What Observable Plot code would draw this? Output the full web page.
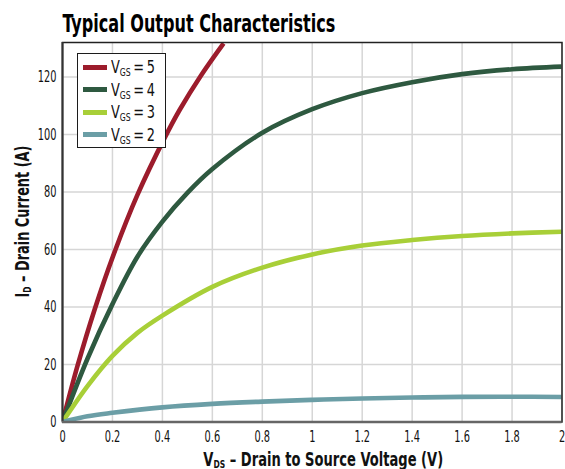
<!DOCTYPE html>
<html>
<head>
<meta charset="utf-8">
<script src="https://cdn.jsdelivr.net/npm/d3@7"></script>
<script src="https://cdn.jsdelivr.net/npm/@observablehq/plot@0.6"></script>
<style>
  body { margin: 0; background: #fff; }
  #wrap { position: relative; width: 565px; height: 469px; overflow: hidden; }
  #wrap svg { position: absolute; left: 0; top: 0; overflow: visible; }
  .legend { position: absolute; left: 76.5px; top: 53px; width: 89px; height: 94.5px;
            box-sizing: border-box; border: 1.5px solid #1c1c1c; background: #fff; padding-top: 2.2px; }
  .row { position: relative; height: 22.5px; }
  .sw { position: absolute; left: 5px; top: 8.75px; width: 24px; height: 5px; }
  .lab { position: absolute; left: 33.5px; top: 0; line-height: 22.5px; white-space: nowrap;
         font-size: 17.5px; color: #111; transform-origin: 0 50%; }
  .lab sub { font-size: 10.5px; vertical-align: -3px; line-height: 0; }
</style>
</head>
<body>
<div id="wrap"></div>
<script>
const FONT = "'Liberation Sans Narrow','DejaVu Sans Condensed','Liberation Sans',sans-serif";

// ---- text ----
const titleText = "Typical Output Characteristics";
const xLabelMain = "V";
const xLabelSub = "DS";
const xLabelRest = " – Drain to Source Voltage (V)";
const yLabelMain = "I";
const yLabelSub = "D";
const yLabelRest = " – Drain Current (A)";

// ---- ticks ----
const xTicks = [0, 0.2, 0.4, 0.6, 0.8, 1, 1.2, 1.4, 1.6, 1.8, 2];
const xTickLabels = ["0", "0.2", "0.4", "0.6", "0.8", "1", "1.2", "1.4", "1.6", "1.8", "2"];
const yTicks = [0, 20, 40, 60, 80, 100, 120];
const yTickLabels = ["0", "20", "40", "60", "80", "100", "120"];

// ---- series ----
const vgsLabels = ["5", "4", "3", "2"];
const vgsColors = ["#9c1c2c", "#2e5940", "#a8cf38", "#6b9ea6"];

const vds5 = [0, 0.06, 0.13, 0.21, 0.30, 0.41, 0.47, 0.552, 0.645];
const id5  = [0, 19.5, 39.5, 59.5, 79, 99, 108.7, 120.2, 131.7];

const vds4 = [0, 0.1, 0.2, 0.3, 0.4, 0.5, 0.6, 0.8, 1.0, 1.2, 1.4, 1.6, 1.8, 2.0];
const id4  = [0, 22, 41, 57.5, 69.7, 79.7, 88, 100.6, 108.8, 114.4, 118.2, 121, 122.7, 123.6];

const vds3 = [0, 0.1, 0.2, 0.3, 0.4, 0.6, 0.8, 1.0, 1.2, 1.4, 1.6, 1.8, 2.0];
const id3  = [0, 12.5, 23, 31, 37, 47, 53.7, 58.3, 61.4, 63.3, 64.7, 65.6, 66.2];

const vds2 = [0, 0.1, 0.2, 0.4, 0.6, 0.8, 1.0, 1.2, 1.4, 1.6, 1.8, 2.0];
const id2  = [0, 2.0, 3.2, 5.1, 6.3, 7.1, 7.7, 8.2, 8.5, 8.75, 8.8, 8.7];

const series = [
  {vgs: "5", vds: vds5, id: id5},
  {vgs: "4", vds: vds4, id: id4},
  {vgs: "3", vds: vds3, id: id3},
  {vgs: "2", vds: vds2, id: id2}
];
const rows = series.flatMap(s => s.vds.map((v, i) => ({vgs: s.vgs, vds: v, id: s.id[i]})));

const xLabelFull = xLabelMain + xLabelSub + xLabelRest;
const yLabelFull = yLabelMain + yLabelSub + yLabelRest;

const svg = Plot.plot({
  width: 565,
  height: 469,
  marginLeft: 62,
  marginRight: 3.5,
  marginTop: 42,
  marginBottom: 47.5,
  style: {fontFamily: FONT, fontSize: "16.5px", color: "#111", background: "#fff"},
  x: {domain: [0, 2]},
  y: {domain: [0, 132]},
  color: {domain: vgsLabels, range: vgsColors},
  marks: [
    Plot.gridX(xTicks, {stroke: "#d6d6d6", strokeOpacity: 1, strokeWidth: 1.5}),
    Plot.gridY(yTicks, {stroke: "#d6d6d6", strokeOpacity: 1, strokeWidth: 1.5}),
    Plot.line(rows, {x: "vds", y: "id", z: "vgs", stroke: "vgs", strokeWidth: 4.6,
                     curve: "catmull-rom", strokeLinecap: "butt", clip: true}),
    Plot.frame({stroke: "#222", strokeWidth: 1.5}),
    Plot.ruleX([0], {stroke: "#333", strokeWidth: 2}),
    Plot.ruleY([0], {stroke: "#666", strokeWidth: 2.5}),
    Plot.axisX(xTicks, {tickSize: 0, tickPadding: 8, label: null,
                        tickFormat: d => xTickLabels[xTicks.indexOf(d)]}),
    Plot.axisY(yTicks, {tickSize: 0, tickPadding: 6, label: null,
                        tickFormat: d => yTickLabels[yTicks.indexOf(d)]}),
    Plot.text([titleText], {frameAnchor: "top-left", dy: -11, textAnchor: "start",
                            fontWeight: "bold", fontSize: 25.5, fill: "#000"}),
    Plot.text([xLabelFull], {frameAnchor: "bottom", dx: 11, dy: 43.5, textAnchor: "middle",
                             fontWeight: "bold", fontSize: 19, fill: "#111"}),
    Plot.text([yLabelFull], {frameAnchor: "left", dx: -33.7, dy: -10.75, rotate: -90, textAnchor: "middle",
                             fontWeight: "bold", fontSize: 19, fill: "#111"})
  ]
});

const wrap = document.getElementById("wrap");
wrap.appendChild(svg);

function condense(t, s) {
  const tr = t.getAttribute("transform") || "";
  t.setAttribute("transform", (tr + ` scale(${s},1)`).trim());
}
function withSub(t, main, sub, rest) {
  t.textContent = "";
  const a = document.createElementNS("http://www.w3.org/2000/svg", "tspan");
  a.textContent = main;
  const b = document.createElementNS("http://www.w3.org/2000/svg", "tspan");
  b.textContent = sub; b.setAttribute("font-size", "0.58em"); b.setAttribute("dy", "0.22em");
  const c = document.createElementNS("http://www.w3.org/2000/svg", "tspan");
  c.textContent = rest; c.setAttribute("dy", "-0.128em");
  t.append(a, b, c);
}

const texts = Array.from(svg.querySelectorAll("text"));
const tTitle = texts.find(t => t.textContent === titleText);
const tX = texts.find(t => t.textContent === xLabelFull);
const tY = texts.find(t => t.textContent === yLabelFull);

tTitle.setAttribute("y", "0");
condense(tTitle, 273 / tTitle.getComputedTextLength());

withSub(tX, xLabelMain, xLabelSub, xLabelRest);
tX.setAttribute("y", "0");
condense(tX, 240 / tX.getComputedTextLength());

withSub(tY, yLabelMain, yLabelSub, yLabelRest);
tY.setAttribute("y", "0");
condense(tY, 152 / tY.getComputedTextLength());

// tick labels: condensed to the reference digit width
const tickTexts = texts.filter(t => t !== tTitle && t !== tX && t !== tY);
const ref80 = tickTexts.find(t => t.textContent === "80");
const sTick = ref80 ? 12.5 / ref80.getComputedTextLength() : 0.85;
tickTexts.forEach(t => condense(t, sTick));

// ---- legend ----
const legend = document.createElement("div");
legend.className = "legend";
legend.style.fontFamily = FONT;
vgsLabels.forEach((v, i) => {
  const row = document.createElement("div");
  row.className = "row";
  const sw = document.createElement("div");
  sw.className = "sw";
  sw.style.background = vgsColors[i];
  const lab = document.createElement("div");
  lab.className = "lab";
  lab.innerHTML = "V<sub>GS</sub>\u2009=\u2009" + v;
  row.append(sw, lab);
  legend.appendChild(row);
});
wrap.appendChild(legend);
legend.querySelectorAll(".lab").forEach(l => {
  const w = l.getBoundingClientRect().width;
  l.style.transform = `scaleX(${44 / w})`;
});
</script>
</body>
</html>
